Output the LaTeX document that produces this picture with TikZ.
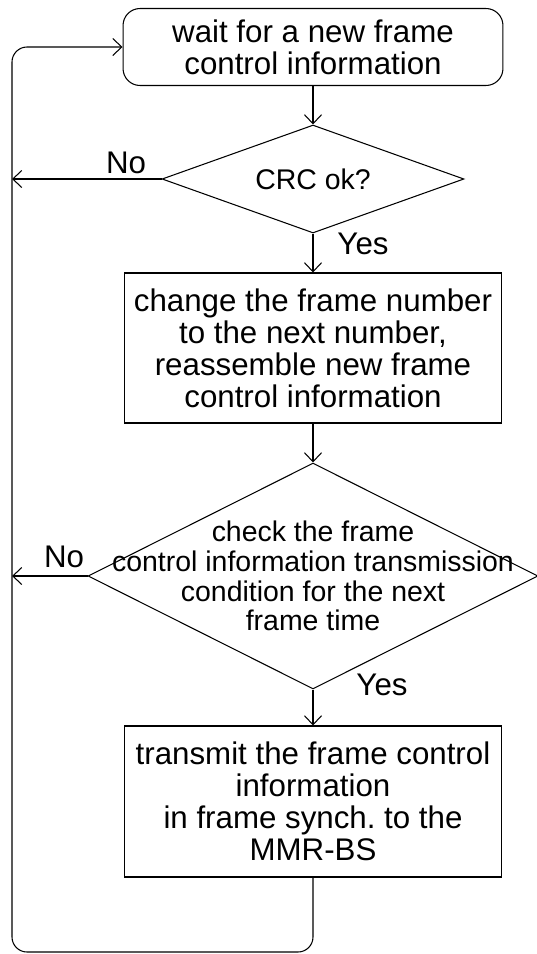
\documentclass[tikz,border=0pt]{standalone}
\usepackage{fontspec}
\setmainfont{Liberation Sans}
\frenchspacing
\usetikzlibrary{shapes.geometric}
\usetikzlibrary{arrows.meta}
\tikzset{>={Straight Barb[length=0.18cm,width=0.34cm]}}
\tikzstyle{stepbox}=[draw,line width=0.6pt,align=center,inner sep=0pt,font=\fontsize{17.8}{18.2}\selectfont]
\tikzstyle{waitbox}=[stepbox,rounded corners=0.34cm]
\tikzstyle{decision}=[draw,diamond,line width=0.6pt,inner sep=0pt]
\tikzstyle{decisiontext}=[align=center,inner sep=0pt,font=\fontsize{16.2}{17}\selectfont]
\tikzstyle{answer}=[inner sep=0pt,font=\fontsize{17.8}{18}\selectfont]
\tikzstyle{flow}=[->,line width=0.6pt]

\begin{document}
\begin{tikzpicture}[x=0.02cm,y=-0.02cm]
  \useasboundingbox (0,0) rectangle (537,954);

  % column and loop variables
  \def\xc{313}
  \def\xl{12}
  \def\yb{952}

  % steps
  \node[waitbox,minimum width=7.6cm,minimum height=1.54cm] (wait) at (\xc,47)
    {wait for a new frame\\control information};
  \node[decision,minimum width=6.04cm,minimum height=2.16cm,
    label={[decisiontext]center:CRC ok?}] (crc) at (\xc,179) {};
  \node[stepbox,minimum width=7.56cm,minimum height=3.0cm] (renumber) at (\xc,348)
    {change the frame number\\to the next number,\\reassemble new frame\\control information};
  \node[decision,minimum width=9.0cm,minimum height=4.52cm,
    label={[decisiontext]center:{check the frame\\control information transmission\\condition for the next\\frame time}}]
    (check) at (\xc,576) {};
  \node[stepbox,minimum width=7.56cm,minimum height=3.02cm] (transmit) at (\xc,801.5)
    {transmit the frame control\\information\\in frame synch. to the\\MMR-BS};

  % answers
  \node[answer] (crcno) at (126,163) {No};
  \node[answer] (crcyes) at (363,244) {Yes};
  \node[answer] (checkno) at (64,557) {No};
  \node[answer] (checkyes) at (382,685) {Yes};

  % main flow
  \draw[flow] (wait) -- (crc);
  \draw[flow] (crc) -- (renumber);
  \draw[flow] (renumber) -- (check);
  \draw[flow] (check) -- (transmit);

  % back to the start
  \coordinate (loopleft) at (\xl,\yb);
  \coordinate (loopright) at (\xc,\yb);
  \draw[flow,rounded corners=0.3cm]
    (transmit.south) -- (loopright) -- (loopleft) |- (wait.west);
  \draw[flow] (crc.west) -- (crc.west -| loopleft);
  \draw[flow] (check.west) -- (check.west -| loopleft);

\end{tikzpicture}
\end{document}
